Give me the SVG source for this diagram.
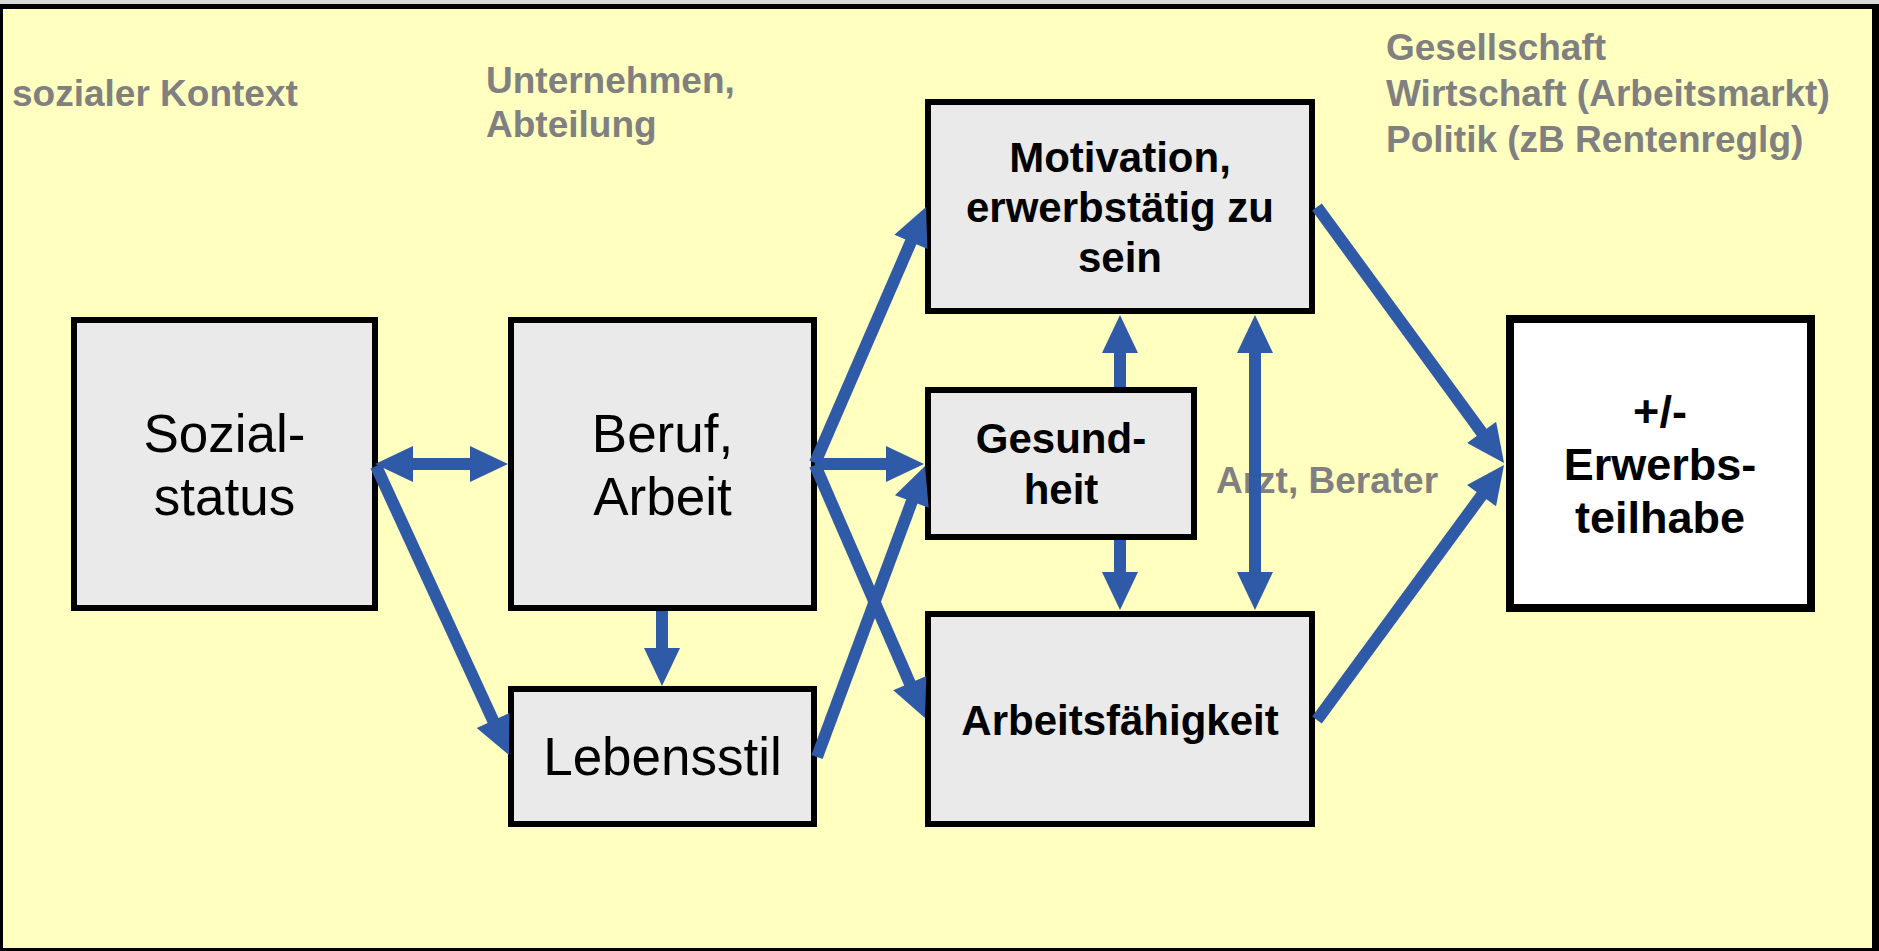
<svg xmlns="http://www.w3.org/2000/svg" width="1879" height="951" viewBox="0 0 1879 951">
<style>
.box{fill:#EAEAEA;stroke:#000;stroke-width:6}
.res{fill:#FFFFFF;stroke:#000;stroke-width:8}
.lbl{font-family:"Liberation Sans",Arial,sans-serif;font-weight:bold;font-size:37px;fill:#808080}
.reg{font-family:"Liberation Sans",Arial,sans-serif;font-size:53px;fill:#000;text-anchor:middle}
.bld{font-family:"Liberation Sans",Arial,sans-serif;font-weight:bold;font-size:42px;fill:#000;text-anchor:middle}
.bld2{font-family:"Liberation Sans",Arial,sans-serif;font-weight:bold;font-size:45px;fill:#000;text-anchor:middle}
.arr{stroke:#2F5AA8;stroke-width:12;fill:none;marker-end:url(#ah)}
.arr2{stroke:#2F5AA8;stroke-width:12;fill:none;marker-end:url(#ah);marker-start:url(#ah)}
</style>
<defs>
<marker id="ah" markerUnits="userSpaceOnUse" markerWidth="40" markerHeight="36" viewBox="0 0 38 36" refX="2" refY="18" orient="auto-start-reverse">
<path d="M0,0 L38,18 L0,36 z" fill="#2F5AA8"/>
</marker>
</defs>
<rect x="0" y="0" width="1879" height="951" fill="#000"/>
<rect x="0" y="0" width="1879" height="4" fill="#D9D9D9"/>
<rect x="3" y="9" width="1869" height="939" fill="#FFFFC0"/>

<g id="context-labels">
<text class="lbl" x="12" y="106">sozialer Kontext</text>
<text class="lbl" x="486" y="93">Unternehmen,</text>
<text class="lbl" x="486" y="137">Abteilung</text>
<text class="lbl" x="1386" y="60">Gesellschaft</text>
<text class="lbl" x="1386" y="106">Wirtschaft (Arbeitsmarkt)</text>
<text class="lbl" x="1386" y="152">Politik (zB Rentenreglg)</text>
<text class="lbl" x="1216" y="493">Arzt, Berater</text>
</g>

<g id="sozialstatus">
<rect class="box" x="74" y="320" width="301" height="288"/>
<text class="reg" x="224.5" y="452">Sozial-</text>
<text class="reg" x="224.5" y="515">status</text>
</g>
<g id="beruf">
<rect class="box" x="511" y="320" width="303" height="288"/>
<text class="reg" x="662.5" y="452">Beruf,</text>
<text class="reg" x="662.5" y="515">Arbeit</text>
</g>
<g id="lebensstil">
<rect class="box" x="511" y="689" width="303" height="135"/>
<text class="reg" x="662.5" y="775">Lebensstil</text>
</g>
<g id="motivation">
<rect class="box" x="928" y="102" width="384" height="209"/>
<text class="bld" x="1120" y="172">Motivation,</text>
<text class="bld" x="1120" y="222">erwerbstätig zu</text>
<text class="bld" x="1120" y="272">sein</text>
</g>
<g id="gesundheit">
<rect class="box" x="928" y="390" width="266" height="147"/>
<text class="bld" x="1061" y="453">Gesund-</text>
<text class="bld" x="1061" y="504">heit</text>
</g>
<g id="arbeitsfaehigkeit">
<rect class="box" x="928" y="614" width="384" height="210"/>
<text class="bld" x="1120" y="735">Arbeitsfähigkeit</text>
</g>
<g id="erwerbsteilhabe">
<rect class="res" x="1510" y="319" width="301" height="289"/>
<text class="bld2" x="1660" y="427">+/-</text>
<text class="bld2" x="1660" y="480">Erwerbs-</text>
<text class="bld2" x="1660" y="533">teilhabe</text>
</g>

<g id="connectors">
<line class="arr2" x1="411" y1="464" x2="472" y2="464"/>
<line class="arr" x1="376" y1="466" x2="493.9" y2="722.3"/>
<line class="arr" x1="662" y1="611" x2="662" y2="650"/>
<line class="arr" x1="815" y1="463" x2="911.7" y2="240"/>
<line class="arr" x1="815" y1="464" x2="888" y2="464"/>
<line class="arr" x1="815" y1="465" x2="910.6" y2="685"/>
<line class="arr" x1="817" y1="757" x2="912.5" y2="499.7"/>
<line class="arr" x1="1120" y1="387" x2="1120" y2="351"/>
<line class="arr" x1="1120" y1="540" x2="1120" y2="574"/>
<line class="arr2" x1="1255" y1="351" x2="1255" y2="574"/>
<line class="arr" x1="1317" y1="207" x2="1482.8" y2="433.9"/>
<line class="arr" x1="1317" y1="720" x2="1482.7" y2="494"/>
</g>
</svg>
